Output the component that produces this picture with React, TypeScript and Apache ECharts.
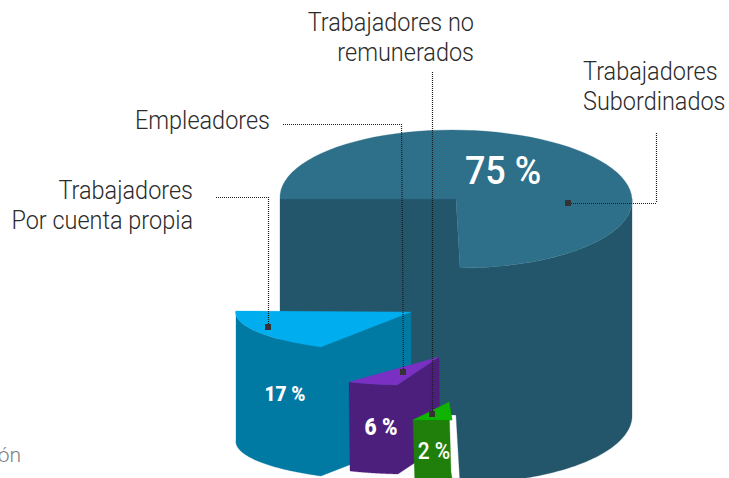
import React, { useEffect, useRef } from "react";
import * as echarts from "echarts";

const W = 729;
const H = 478;

// Values
const categories = [
  "Trabajadores\nSubordinados",
  "Trabajadores\nPor cuenta propia",
  "Empleadores",
  "Trabajadores no\nremunerados",
];
const shares = [75, 17, 6, 2];
const croppedCaption = "ón";

// Slice colours
const topColors = ["#2e6f89", "#00aeef", "#7b30c4", "#0fb300"];
const sideColors = ["#23566b", "#0079a3", "#4d1f7c", "#207f0a"];

// Slice geometry: apex and both ends of the top face, and extrusion vector
const apexes = [[456, 199], [411, 312], [439, 357], [449, 402]];
const starts = [[280, 199], [236, 311], [349, 382], [413, 420]];
const ends = [[460, 268], [321, 347], [397, 385], [452, 420]];
const extrusions = [[0, 215], [0, 129], [1, 89], [2, 70]];
const percentPositions = [[503, 170], [285, 394], [381, 427], [434, 451]];
const percentFonts = ["500 39.5px Roboto", "900 21px Roboto", "900 23px Roboto", "500 23px Roboto"];
const mainSideFromDeg = 180;
const mainCutBottom = [456, 415];

// Callout layout
const leaderPaths = [
  [[656, 133], [656, 203], [568, 203]],
  [[216, 197], [268, 197], [268, 327]],
  [[283, 124], [401, 124], [403, 372]],
  [[432, 72], [432, 414]],
];
const labelAnchors = [[583, 86, "left"], [193, 205, "right"], [270, 120, "right"], [474, 37, "right"]];

const LABEL_FONT = "300 25.5px Roboto";
const NARROW = 0.92;

function renderSlice(params: any, api: any) {
  const i = params.dataIndex;
  const share = api.value(0);
  const sweep = (share * 3.6 * Math.PI) / 180;
  const [ax, ay] = apexes[i];
  const ux = starts[i][0] - ax;
  const uy = starts[i][1] - ay;
  const ex = ends[i][0] - ax;
  const ey = ends[i][1] - ay;
  const vx = (ex - Math.cos(sweep) * ux) / Math.sin(sweep);
  const vy = (ey - Math.cos(sweep) * uy) / Math.sin(sweep);
  const [dx, dy] = extrusions[i];
  const arc = (from: number, to: number) => {
    const out: number[][] = [];
    const n = 72;
    for (let k = 0; k <= n; k++) {
      const t = from + ((to - from) * k) / n;
      out.push([ax + Math.cos(t) * ux + Math.sin(t) * vx, ay + Math.cos(t) * uy + Math.sin(t) * vy]);
    }
    return out;
  };
  const shift = (p: number[]) => [p[0] + dx, p[1] + dy];
  const toPx = (pts: number[][]) => pts.map((p) => api.coord(p));
  const poly = (pts: number[][], fill: string) => ({
    type: "polygon",
    shape: { points: toPx(pts) },
    style: { fill, stroke: fill, lineWidth: 0.3 },
  });

  const children: any[] = [];
  const fullArc = arc(0, sweep);
  if (i === 0) {
    const front = arc((mainSideFromDeg * Math.PI) / 180, sweep);
    children.push(
      poly(
        [
          starts[0],
          apexes[0],
          ...front.slice().reverse(),
          ...front.map(shift),
          mainCutBottom,
          shift(starts[0]),
        ],
        sideColors[0],
      ),
    );
  } else {
    children.push(
      poly([...fullArc, apexes[i], shift(apexes[i]), ...fullArc.slice().reverse().map(shift)], sideColors[i]),
    );
  }
  children.push(poly([apexes[i], ...fullArc], topColors[i]));
  const [tx, ty] = api.coord(percentPositions[i]);
  children.push({
    type: "text",
    x: tx,
    y: ty,
    scaleX: 0.91,
    style: {
      text: `${share} %`,
      x: 0,
      y: 0,
      fill: "#ffffff",
      font: percentFonts[i],
      align: "center",
      verticalAlign: "middle",
    },
  });
  return { type: "group", children };
}

export default function App() {
  const ref = useRef<HTMLDivElement>(null);
  useEffect(() => {
    if (!ref.current) return;
    const chart = echarts.init(ref.current, undefined, { renderer: "svg" });
    const graphics: any[] = [];
    leaderPaths.forEach((path) => {
      for (let s = 0; s + 1 < path.length; s++) {
        const [x1, y1] = path[s];
        const [x2, y2] = path[s + 1];
        const horizontal = y1 === y2;
        graphics.push({
          type: "line",
          z: 20,
          shape: horizontal
            ? { x1, y1: y1 + 0.5, x2, y2: y2 + 0.5 }
            : { x1: x1 + 0.5, y1, x2: x2 + 0.5, y2 },
          style: { stroke: "#1c1c1c", lineWidth: 1.2, lineDash: [1, 1] },
        });
      }
      const [sx, sy] = path[path.length - 1];
      graphics.push({
        type: "rect",
        z: 21,
        shape: { x: sx - 3, y: sy - 3, width: 6, height: 6 },
        style: { fill: "#333333" },
      });
    });
    categories.forEach((c, i) => {
      const [x, y, align] = labelAnchors[i] as [number, number, string];
      graphics.push({
        type: "text",
        z: 22,
        x,
        y,
        scaleX: NARROW,
        style: { text: c, x: 0, y: 0, fill: "#2b2b2b", font: LABEL_FONT, align, verticalAlign: "middle", lineHeight: 30 },
      });
    });
    graphics.push({
      type: "text",
      z: 22,
      style: { text: croppedCaption, x: 21, y: 455, fill: "#808080", font: "300 21px Roboto", align: "right", verticalAlign: "middle" },
    });
    chart.setOption({
      animation: false,
      backgroundColor: "#ffffff",
      grid: { left: 0, right: 0, top: 0, bottom: 0 },
      xAxis: { type: "value", min: 0, max: W, show: false },
      yAxis: { type: "value", min: 0, max: H, inverse: true, show: false },
      graphic: graphics,
      series: [
        {
          type: "custom",
          coordinateSystem: "cartesian2d",
          clip: false,
          renderItem: renderSlice,
          encode: { x: 0, y: 1 },
          data: shares.map((s, i) => [s, i]),
        },
      ],
    });
    return () => chart.dispose();
  }, []);
  return <div ref={ref} style={{ position: "fixed", left: 0, top: 0, width: W, height: H }} />;
}
